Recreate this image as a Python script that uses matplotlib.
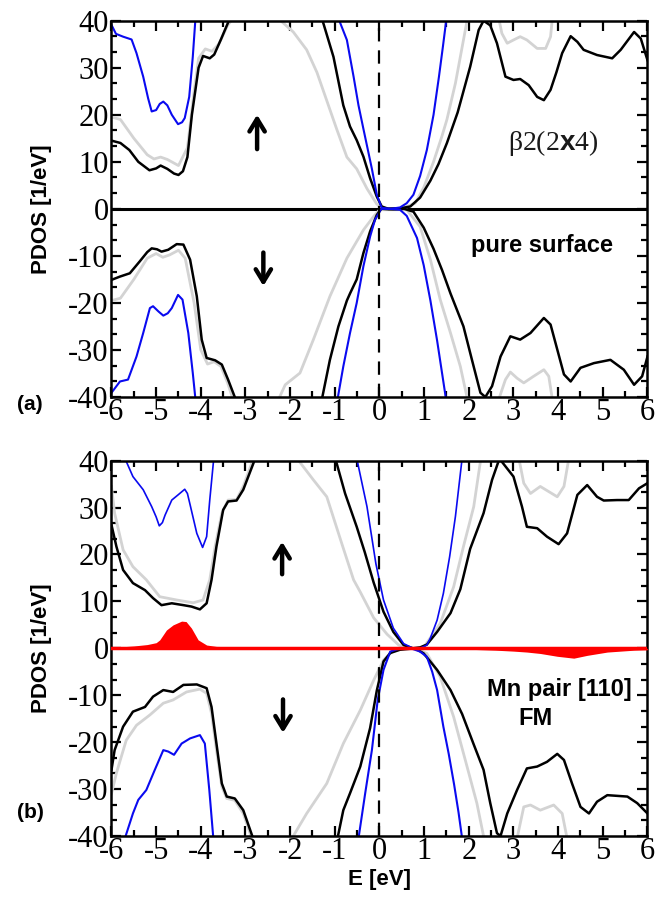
import numpy as np
import matplotlib
matplotlib.use('Agg')
import matplotlib.pyplot as plt
from matplotlib.ticker import MultipleLocator, AutoMinorLocator

plt.rcParams['font.family'] = 'Liberation Serif'
plt.rcParams['axes.unicode_minus'] = False
plt.rcParams['mathtext.fontset'] = 'custom'
plt.rcParams['mathtext.bf'] = 'Liberation Sans:bold'

nan = np.nan

# ---------------- panel (a): pure surface ----------------
a_black_up_E = [-6.0, -5.8, -5.6, -5.4, -5.15, -5.0, -4.9, -4.75, -4.6, -4.5, -4.4, -4.3, -4.2, -4.05, -3.95, -3.8, -3.7, -3.55, -3.35, nan,
                -1.29, -1.03, -0.81, -0.66, -0.51, -0.36, -0.21, -0.06, 0.05, 0.2, 0.46, 0.69, 0.91, 1.14, 1.32, 1.51, 1.75, 2.03,
                2.22, 2.33, 2.48, 2.63, 2.82, 3.0, 3.15, 3.34, 3.53, 3.68, 3.83, 3.96, 4.09, 4.28, 4.43, 4.57, 4.87, 5.21,
                5.40, 5.55, 5.70, 5.85, 6.0]
a_black_up = [14.5, 14.0, 12.5, 10.0, 8.2, 8.6, 9.2, 8.5, 7.5, 7.2, 8.0, 11.0, 20.0, 30.0, 32.5, 32.0, 32.8, 36.0, 40.5, nan,
              40.5, 32.3, 22.0, 17.5, 14.6, 11.1, 6.5, 2.6, 0.5, 0.0, 0.1, 0.5, 2.4, 6.0, 9.5, 14.0, 20.5, 30.2,
              38.0, 40.0, 39.0, 35.2, 28.1, 27.4, 27.6, 26.3, 23.8, 23.1, 25.3, 29.0, 33.1, 36.7, 35.5, 33.8, 32.7, 32.0,
              33.8, 35.7, 37.6, 36.2, 31.6]

a_gray_up_E = [-6.0, -5.8, -5.5, -5.2, -5.05, -4.9, -4.75, -4.5, -4.3, -4.15, -4.05, -3.9, -3.75, -3.6, -3.4, -3.28, nan,
               -2.27, -1.93, -1.63, -1.40, -1.18, -0.96, -0.73, -0.51, -0.28, -0.06, 0.1, 0.3, 0.5, 0.8, 0.99, 1.21, 1.40,
               1.51, 1.70, 1.88, 1.97, nan, 2.67, 2.74, 2.86, 3.0, 3.15, 3.30, 3.53, 3.72, 3.83, 3.87]
a_gray_up = [19.5, 19.0, 15.0, 11.5, 10.6, 11.0, 10.5, 9.2, 13.0, 25.0, 32.0, 34.0, 33.5, 35.0, 39.0, 40.5, nan,
             40.5, 37.6, 33.8, 29.0, 23.0, 17.0, 11.0, 8.5, 4.3, 1.0, 0.1, 0.0, 0.1, 1.2, 4.5, 10.0, 15.5,
             19.0, 26.7, 35.9, 40.5, nan, 40.5, 37.3, 35.2, 35.9, 36.6, 35.9, 34.1, 34.1, 36.6, 40.5]

a_blue_up_E = [-6.0, -5.9, -5.74, -5.55, -5.44, -5.29, -5.18, -5.10, -5.0, -4.92, -4.84, -4.75, -4.65, -4.51, -4.42, -4.36, -4.26,
               -4.18, -4.12, nan, -0.92, -0.73, -0.58, -0.47, -0.36, -0.17, -0.06, 0.05, 0.25, 0.46, 0.61, 0.76, 0.91, 1.06,
               1.21, 1.33, 1.42, 1.50]
a_blue_up = [39.1, 37.2, 36.6, 36.0, 33.1, 28.1, 23.5, 20.7, 21.0, 22.3, 22.8, 22.0, 20.0, 18.0, 18.4, 19.3, 23.8,
             32.3, 40.5, nan, 40.5, 35.9, 28.1, 22.0, 17.0, 8.5, 3.0, 0.2, 0.0, 0.3, 1.2, 3.0, 7.0, 12.5,
             20.0, 28.0, 34.5, 40.5]

a_black_dn_E = [-6.0, -5.81, -5.59, -5.37, -5.20, -5.10, -4.98, -4.88, -4.73, -4.54, -4.39, -4.24, -4.09, -3.98, -3.87, -3.68, -3.53, -3.39, -3.22, nan,
                -1.29, -1.11, -0.92, -0.73, -0.66, -0.51, -0.36, -0.21, -0.06, 0.04, 0.3, 0.55, 0.76, 0.99, 1.21, 1.40, 1.59, 1.88, 2.07,
                2.26, 2.37, 2.52, 2.71, 2.93, 3.15, 3.38, 3.68, 3.83, 3.98, 4.13, 4.28, 4.50, 4.80, 5.17, 5.47, 5.70, 5.88, 6.0]
a_black_dn = [-15.1, -14.4, -13.7, -11.2, -9.2, -8.4, -8.6, -9.1, -8.7, -7.5, -7.6, -10.8, -18.6, -27.8, -31.7, -32.2, -33.1, -36.3, -40.5, nan,
              -40.5, -32.1, -25.0, -19.5, -18.0, -15.0, -9.4, -4.8, -1.3, 0.0, 0.0, 0.0, -0.6, -4.0, -8.5, -13.0, -18.0, -25.0, -32.1,
              -39.1, -40.0, -37.7, -31.4, -27.1, -27.8, -26.4, -23.2, -24.6, -29.9, -35.2, -36.7, -33.8, -32.8, -32.1, -34.2, -37.4, -35.6, -31.4]

a_gray_dn_E = [-6.0, -5.8, -5.5, -5.2, -5.0, -4.85, -4.7, -4.5, -4.35, -4.15, -4.0, -3.85, -3.7, -3.55, -3.4, -3.28, nan,
               -2.26, -2.11, -1.78, -1.48, -1.11, -0.73, -0.36, -0.13, 0.0, 0.3, 0.61, 0.91, 1.14, 1.36, 1.59, 1.81, 1.97, nan,
               2.67, 2.82, 2.93, 3.08, 3.23, 3.45, 3.68, 3.79, 3.87]
a_gray_dn = [-19.5, -19.0, -15.0, -10.5, -9.5, -10.3, -9.8, -8.8, -10.5, -20.0, -30.0, -33.0, -32.5, -33.5, -37.0, -40.5, nan,
             -40.5, -37.4, -34.9, -27.8, -18.6, -10.5, -4.5, -1.6, -0.2, 0.0, -0.2, -3.8, -10.8, -19.3, -26.4, -33.5, -40.5, nan,
             -40.5, -36.3, -34.7, -36.0, -37.0, -35.6, -34.2, -35.6, -40.5]

a_blue_dn_E = [-6.0, -5.81, -5.63, -5.44, -5.29, -5.14, -5.07, -4.95, -4.84, -4.74, -4.65, -4.51, -4.41, -4.28, -4.18, -4.12, nan,
               -0.94, -0.81, -0.66, -0.51, -0.36, -0.21, -0.10, 0.04, 0.25, 0.46, 0.61, 0.84, 0.99, 1.14, 1.29, 1.49]
a_blue_dn = [-39.1, -36.7, -36.3, -31.4, -26.4, -21.1, -20.7, -21.8, -22.7, -22.2, -21.1, -18.3, -19.3, -26.4, -34.9, -40.5, nan,
             -40.5, -33.5, -26.4, -20.0, -12.2, -5.9, -2.3, 0.0, 0.0, -0.2, -1.5, -6.2, -12.0, -19.5, -28.0, -40.5]

# ---------------- panel (b): Mn pair [110] FM ----------------
b_black_up_E = [-6.0, -5.89, -5.74, -5.52, -5.25, -5.07, -4.88, -4.65, -4.39, -4.21, -4.02, -3.87, -3.76, -3.65, -3.50, -3.39,
                -3.20, -3.05, -2.78, nan, -0.99, -0.77, -0.51, -0.33, -0.13, 0.09, 0.31, 0.54, 0.75, 0.91, 1.06, 1.29, 1.59,
                1.81, 2.03, 2.33, 2.52, 2.67, 2.72, 3.0, 3.19, 3.30, 3.53, 3.75, 4.01, 4.20, 4.43, 4.65, 4.87, 5.02, 5.32,
                5.58, 5.81, 6.0]
b_black_up = [26.3, 21.7, 16.7, 13.9, 12.4, 10.7, 9.2, 9.6, 9.2, 8.9, 8.3, 9.6, 14.6, 21.7, 29.5, 31.3,
              31.5, 33.8, 40.5, nan, 40.5, 33.0, 25.9, 20.5, 14.0, 7.8, 3.5, 0.7, 0.0, 0.2, 0.8, 3.5, 7.5,
              12.6, 21.2, 28.8, 35.9, 40.0, 40.0, 36.6, 30.2, 25.9, 25.6, 23.8, 22.2, 24.5, 32.7, 34.8, 32.3, 31.5, 31.6,
              31.6, 34.1, 35.2]

b_gray_up_E = [-6.0, -5.93, -5.74, -5.52, -5.22, -4.92, -4.54, -4.17, -3.95, -3.80, -3.68, -3.53, -3.39, -3.20, -3.05, -2.82, nan,
               -1.85, -1.48, -1.18, -0.85, -0.58, -0.43, -0.13, 0.17, 0.43, 0.6, 0.75, 0.99, 1.36, 1.66, 1.88, 2.11, 2.27, nan,
               3.12, 3.23, 3.38, 3.60, 3.79, 3.98, 4.13, 4.24]
b_gray_up = [34.5, 28.8, 21.0, 17.4, 14.6, 11.0, 10.3, 9.7, 10.3, 14.6, 21.7, 28.8, 31.6, 31.7, 34.5, 40.5, nan,
             40.5, 35.9, 32.3, 22.5, 14.6, 12.0, 6.5, 3.0, 0.7, 0.1, 0.0, 0.2, 5.3, 13.1, 21.7, 30.2, 40.5, nan,
             40.5, 35.2, 33.0, 34.5, 33.4, 32.3, 34.5, 40.5]

b_blue_up_E = [-5.70, -5.52, -5.29, -5.10, -5.0, -4.93, -4.86, -4.80, -4.65, -4.51, -4.36, -4.30, -4.24, -4.09, -3.96, -3.87, -3.80, -3.71, nan,
               -0.51, -0.28, -0.08, 0.09, 0.31, 0.54, 0.75, 0.91, 1.06, 1.14, 1.29, 1.43, 1.57, 1.70, 1.85]
b_blue_up = [40.5, 36.6, 33.8, 30.2, 28.0, 26.1, 26.8, 28.4, 31.6, 32.7, 33.9, 33.0, 30.6, 24.5, 21.5, 23.8, 31.6, 40.5, nan,
             40.5, 30.2, 18.0, 10.3, 4.3, 1.0, 0.0, 0.0, 0.7, 2.2, 6.0, 11.7, 19.5, 28.1, 40.5]

b_black_dn_E = [-6.0, -5.93, -5.74, -5.52, -5.25, -5.07, -4.84, -4.62, -4.39, -4.09, -3.87, -3.76, -3.65, -3.53, -3.42, -3.24,
                -3.05, -2.83, nan, -0.94, -0.81, -0.66, -0.43, -0.21, -0.06, 0.09, 0.24, 0.46, 0.8, 0.99, 1.29, 1.59, 1.85, 2.11,
                2.33, 2.48, 2.63, 2.71, 2.86, 3.08, 3.30, 3.53, 3.75, 3.98, 4.13, 4.31, 4.50, 4.69, 4.87, 5.10, 5.55, 5.77, 6.0]
b_black_dn = [-25.9, -21.7, -16.7, -13.5, -12.5, -10.3, -8.9, -9.3, -7.8, -7.7, -8.5, -12.5, -20.3, -28.8, -31.6, -32.0,
              -34.5, -40.5, nan, -40.5, -34.5, -30.9, -25.2, -17.0, -9.0, -2.8, -1.0, -0.3, 0.0, -1.1, -4.6, -8.9, -14.0, -20.5,
              -25.9, -33.0, -39.4, -40.0, -35.2, -30.2, -25.6, -25.2, -24.2, -22.5, -23.8, -28.8, -33.8, -35.2, -32.7, -31.3, -31.6, -33.0, -35.2]

b_gray_dn_E = [-6.0, -5.89, -5.67, -5.44, -5.14, -4.84, -4.62, -4.32, -4.02, -3.87, -3.76, -3.65, -3.53, -3.42, -3.24, -3.05, -2.86, nan,
               -1.96, -1.63, -1.18, -0.81, -0.43, -0.13, 0.09, 0.31, 0.6, 0.8, 1.06, 1.36, 1.66, 1.96, 2.18, 2.34, nan,
               3.08, 3.23, 3.38, 3.60, 3.90, 4.09, 4.20]
b_gray_dn = [-31.0, -26.6, -19.6, -16.4, -14.2, -11.7, -11.0, -9.3, -8.7, -9.6, -13.9, -21.7, -29.5, -32.0, -32.4, -35.2, -40.5, nan,
             -40.5, -35.2, -28.8, -20.3, -13.2, -6.8, -2.5, -0.5, 0.0, 0.0, -1.1, -6.1, -14.6, -25.2, -33.0, -40.5, nan,
             -40.5, -33.8, -33.4, -34.5, -33.4, -35.2, -40.5]

b_blue_dn_E = [-5.70, -5.52, -5.40, -5.22, -5.03, -4.84, -4.73, -4.60, -4.43, -4.24, -4.02, -3.91, -3.81, -3.72, nan,
               -0.47, -0.32, -0.17, -0.04, 0.09, 0.24, 0.46, 0.7, 0.91, 1.06, 1.18, 1.29, 1.43, 1.55, 1.67, 1.77, 1.85]
b_blue_dn = [-40.5, -35.2, -32.3, -30.2, -25.9, -21.7, -22.0, -22.7, -20.3, -19.2, -18.5, -20.3, -30.2, -40.5, nan,
             -40.5, -30.9, -21.7, -11.0, -4.6, -0.7, 0.0, 0.0, -0.7, -1.8, -5.0, -8.9, -16.7, -22.5, -29.0, -35.0, -40.5]

# Mn d-states (red, filled)
mn_E = [-6.0, -5.8, -5.5, -5.2, -5.0, -4.92, -4.77, -4.62, -4.43, -4.33, -4.21, -4.06, -3.87, -3.65, -3.0, -2.0, -1.0,
        0.0, 1.0, 2.0, 2.6, 3.0, 3.3, 3.6, 3.98, 4.35, 4.65, 5.1, 5.7, 6.0]
mn_pdos = [0.2, 0.3, 0.5, 0.8, 1.2, 1.8, 3.9, 5.0, 5.8, 5.7, 4.3, 1.8, 0.7, 0.4, 0.3, 0.1, 0.0,
           0.0, -0.1, -0.2, -0.4, -0.6, -0.8, -1.1, -1.7, -2.1, -1.5, -0.8, -0.4, -0.3]

GRAY = '#d3d3d3'
BLUE = '#0a0af0'

fig = plt.figure(figsize=(6.7, 8.99), dpi=100)
axa = fig.add_axes([0.1664, 0.5584, 0.800, 0.4186])
axb = fig.add_axes([0.1664, 0.0701, 0.800, 0.4175])


def style(ax):
    ax.set_xlim(-6, 6)
    ax.set_ylim(-40, 40)
    ax.xaxis.set_major_locator(MultipleLocator(1))
    ax.xaxis.set_minor_locator(MultipleLocator(0.5))
    ax.yaxis.set_major_locator(MultipleLocator(10))
    ax.yaxis.set_minor_locator(AutoMinorLocator(3))
    ax.tick_params(which='both', direction='in', top=True, right=True, width=1.6, labelsize=22)
    ax.tick_params(which='major', length=7)
    ax.tick_params(which='minor', length=4)
    ax.tick_params(axis='x', pad=1)
    ax.tick_params(axis='y', pad=2)
    for s in ax.spines.values():
        s.set_linewidth(1.8)


def curves(ax, data):
    for E, v, c, lw in data:
        ax.plot(E, v, color=c, lw=lw, solid_joinstyle='round')


style(axa)
axa.axhline(0, color='k', lw=2.2, zorder=1)
curves(axa, [(a_gray_up_E, a_gray_up, GRAY, 2.0), (a_gray_dn_E, a_gray_dn, GRAY, 2.0),
             (a_black_up_E, a_black_up, 'k', 1.8), (a_black_dn_E, a_black_dn, 'k', 1.8),
             (a_blue_up_E, a_blue_up, BLUE, 1.5), (a_blue_dn_E, a_blue_dn, BLUE, 1.5)])
axa.axvline(0, color='k', lw=1.6, dashes=(6, 4))

style(axb)
curves(axb, [(b_gray_up_E, b_gray_up, GRAY, 2.0), (b_gray_dn_E, b_gray_dn, GRAY, 2.0),
             (b_black_up_E, b_black_up, 'k', 1.8), (b_black_dn_E, b_black_dn, 'k', 1.8),
             (b_blue_up_E, b_blue_up, BLUE, 1.2), (b_blue_dn_E, b_blue_dn, BLUE, 1.5)])
axb.fill_between(mn_E, 0, mn_pdos, color='red', lw=0, zorder=3)
axb.axhline(0, color='red', lw=2.5, zorder=3)
axb.axvline(-0.02, color='k', lw=1.6, dashes=(6, 4))

# spin arrows
arr = dict(arrowstyle='->,head_length=0.9,head_width=0.55', lw=3.2, color='k')
axa.annotate('', xy=(-2.74, 20.6), xytext=(-2.74, 12.1), arrowprops=arr)
axa.annotate('', xy=(-2.6, -17.0), xytext=(-2.6, -8.7), arrowprops=arr)
axb.annotate('', xy=(-2.18, 23.3), xytext=(-2.18, 15.2), arrowprops=arr)
axb.annotate('', xy=(-2.16, -18.6), xytext=(-2.16, -10.3), arrowprops=arr)

# labels inside panels
axa.text(3.9, 14, 'β2(2' + r'$\mathbf{x}$' + '4)', fontsize=20, ha='center', va='center', color='#1a1a1a')
axa.text(3.63, -7.9, 'pure surface', family='Liberation Sans', weight='bold', fontsize=17, ha='center', va='center')
axb.text(4.03, -8.7, 'Mn pair [110]', family='Liberation Sans', weight='bold', fontsize=17, ha='center', va='center')
axb.text(3.49, -14.9, 'FM', family='Liberation Sans', weight='bold', fontsize=17, ha='center', va='center')

# axis titles
for yc in (1 - 209 / 899, 1 - 648 / 899):
    fig.text(42 / 670, yc, 'PDOS [1/eV]', rotation=90, ha='center', va='center',
             family='Liberation Sans', weight='bold', fontsize=16)
fig.text(30 / 670, 1 - 405 / 899, '(a)', ha='center', va='center', family='Liberation Sans', weight='bold', fontsize=15)
fig.text(30 / 670, 1 - 812 / 899, '(b)', ha='center', va='center', family='Liberation Sans', weight='bold', fontsize=15)
fig.text(380 / 670, 1 - 880 / 899, 'E [eV]', ha='center', va='center', family='Liberation Sans', weight='bold', fontsize=16)

fig.savefig('out.png', dpi=100)
